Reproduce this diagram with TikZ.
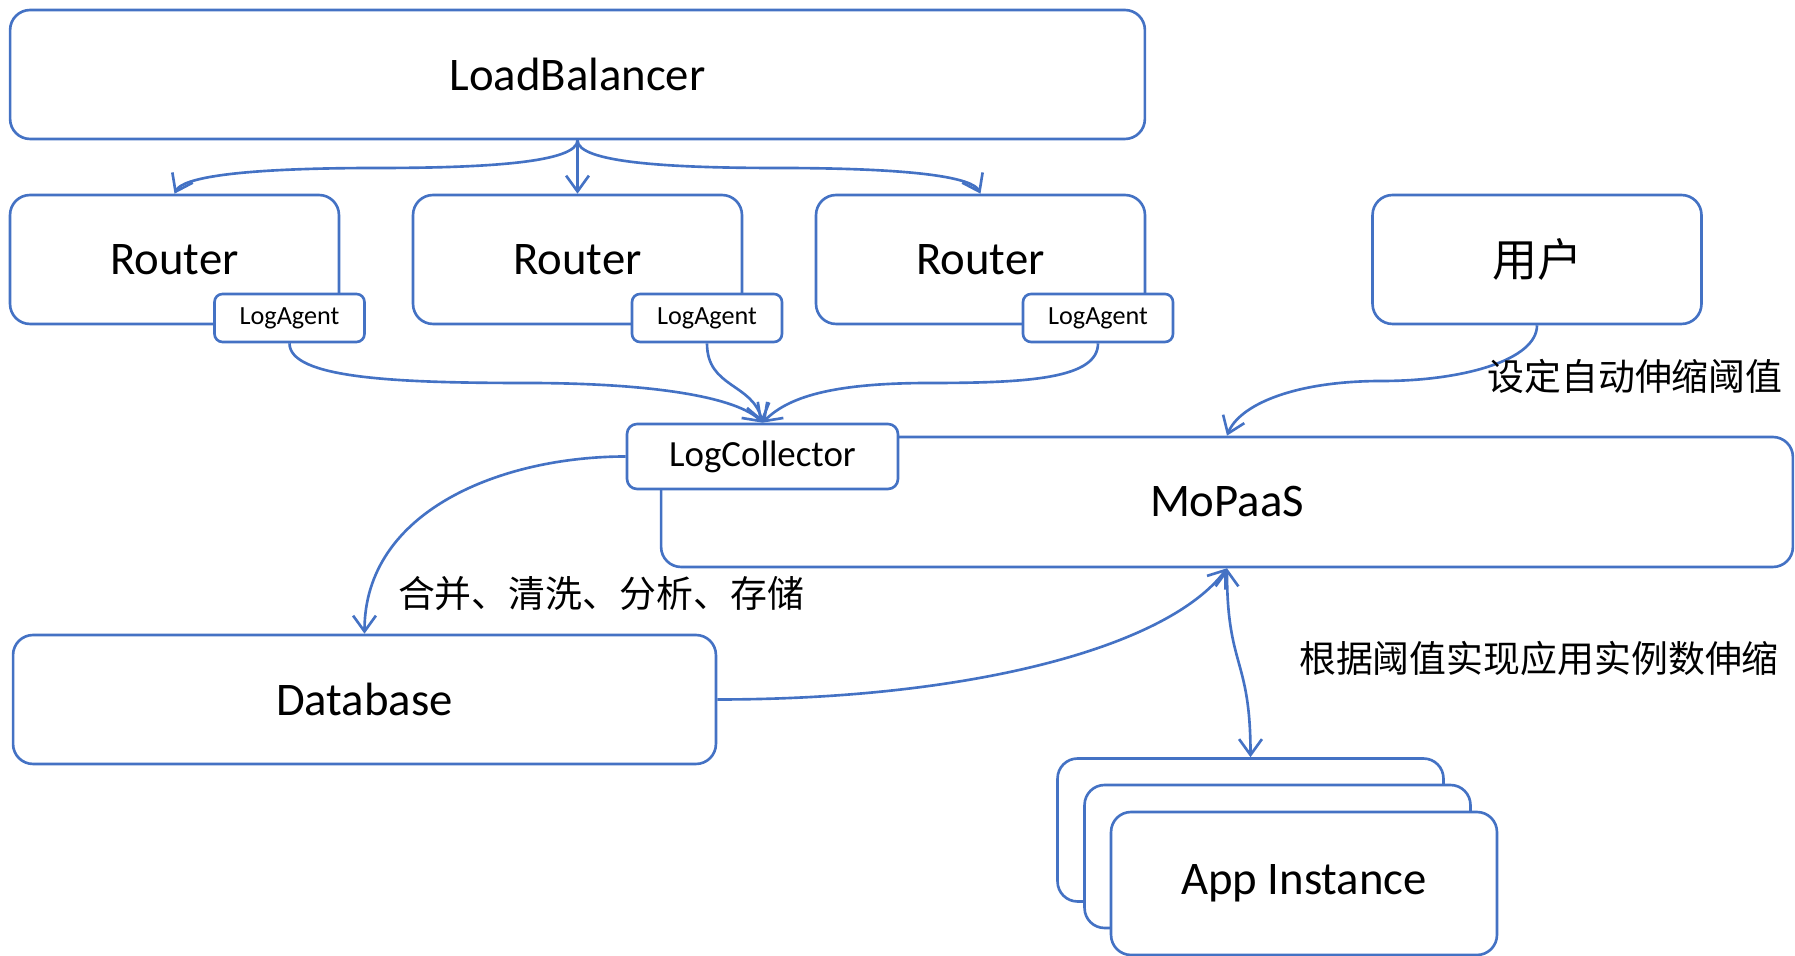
\documentclass[tikz,border=0pt]{standalone}
\usepackage{fontspec}
\setmainfont{Carlito}
\newfontfamily\cjk{Noto Sans CJK SC}
\usetikzlibrary{arrows.meta}
\definecolor{edge}{HTML}{4472C4}
\definecolor{ink}{HTML}{000000}
\tikzset{
  box/.style={draw=edge, fill=white, line width=1.5pt, rounded corners=0.4cm, inner sep=0pt, text=ink, font=\fontsize{26.6}{30}\selectfont},
  wide/.style={box, minimum width=22.7cm, minimum height=2.58cm},
  unit/.style={box, minimum width=6.58cm, minimum height=2.58cm},
  agent/.style={box, rounded corners=0.16cm, minimum width=3.0cm, minimum height=0.96cm, font=\fontsize{14.9}{17}\selectfont},
  collect/.style={box, rounded corners=0.2cm, minimum width=5.42cm, minimum height=1.3cm, font=\fontsize{21}{24}\selectfont},
  inst/.style={box, minimum width=7.72cm, minimum height=2.86cm},
  note/.style={text=ink, inner sep=0pt, font=\cjk\fontsize{21}{24}\selectfont},
  link/.style={draw=edge, line width=1.5pt, -{Straight Barb[length=9pt,width=13pt]}},
  dlink/.style={link, {Straight Barb[length=9pt,width=13pt]}-{Straight Barb[length=9pt,width=13pt]}},
}
\begin{document}
\begin{tikzpicture}[x=0.02cm, y=0.02cm]
  \useasboundingbox (0,0) rectangle (1795,956);

  \node[wide] (lb) at (577.5,881.5) {LoadBalancer};
  \node[unit] (rA) at (174.5,696.5) {Router};
  \node[unit] (rB) at (577.5,696.5) {Router};
  \node[unit] (rC) at (980.5,696.5) {Router};
  \node[unit, font=\cjk\fontsize{25.6}{29}\selectfont] (usr) at (1537,696.5) {用户};
  \node[agent] (laA) at (289.5,638) {LogAgent};
  \node[agent] (laB) at (707,638) {LogAgent};
  \node[agent] (laC) at (1098,638) {LogAgent};

  \node[box, minimum width=22.64cm, minimum height=2.6cm] (mop) at (1227,454) {MoPaaS};
  \node[collect] (lc) at (762.5,499.5) {LogCollector};
  \node[box, minimum width=14.06cm, minimum height=2.58cm] (db) at (364.5,256.5) {Database};

  \node[inst] (appC) at (1250.5,126) {};
  \node[inst] (appB) at (1277.5,99.5) {};
  \node[inst] (appA) at (1304,72.5) {App Instance};

  \coordinate (mA) at (378,788);
  \coordinate (mC) at (777,788);
  \coordinate (mK) at (526,573);
  \coordinate (mL) at (930,573);
  \coordinate (mU) at (1382,575);

  \draw[link] (lb.south) .. controls +(0,-22) and +(110,0) .. (mA) .. controls +(-140,0) and +(8,16) .. (rA.north);
  \draw[link] (lb.south) -- (rB.north);
  \draw[link] (lb.south) .. controls +(0,-22) and +(-110,0) .. (mC) .. controls +(140,0) and +(-8,16) .. (rC.north);

  \draw[link] (laA.south) .. controls +(0,-35) and +(-130,0) .. (mK) .. controls +(130,0) and +(-25,25) .. (lc.north);
  \draw[link] (laB.south) .. controls +(0,-45) and +(-10,40) .. (lc.north);
  \draw[link] (laC.south) .. controls +(0,-35) and +(100,0) .. (mL) .. controls +(-100,0) and +(25,25) .. (lc.north);

  \draw[link] (usr.south) .. controls +(0,-35) and +(80,0) .. (mU) .. controls +(-90,0) and +(12,30) .. (mop.north);
  \draw[link] (lc.west) to[out=180,in=90] (db.north);
  \draw[link] (db.east) .. controls +(250,0) and +(-60,-80) .. (mop.south);
  \draw[dlink] (mop.south) .. controls +(0,-100) and +(0,100) .. (appC.north);

  \node[note] (tagA) at (601,362) {合并、清洗、分析、存储};
  \node[note] (tagB) at (1635,580) {设定自动伸缩阈值};
  \node[note] (tagC) at (1539,298) {根据阈值实现应用实例数伸缩};
\end{tikzpicture}
\end{document}
